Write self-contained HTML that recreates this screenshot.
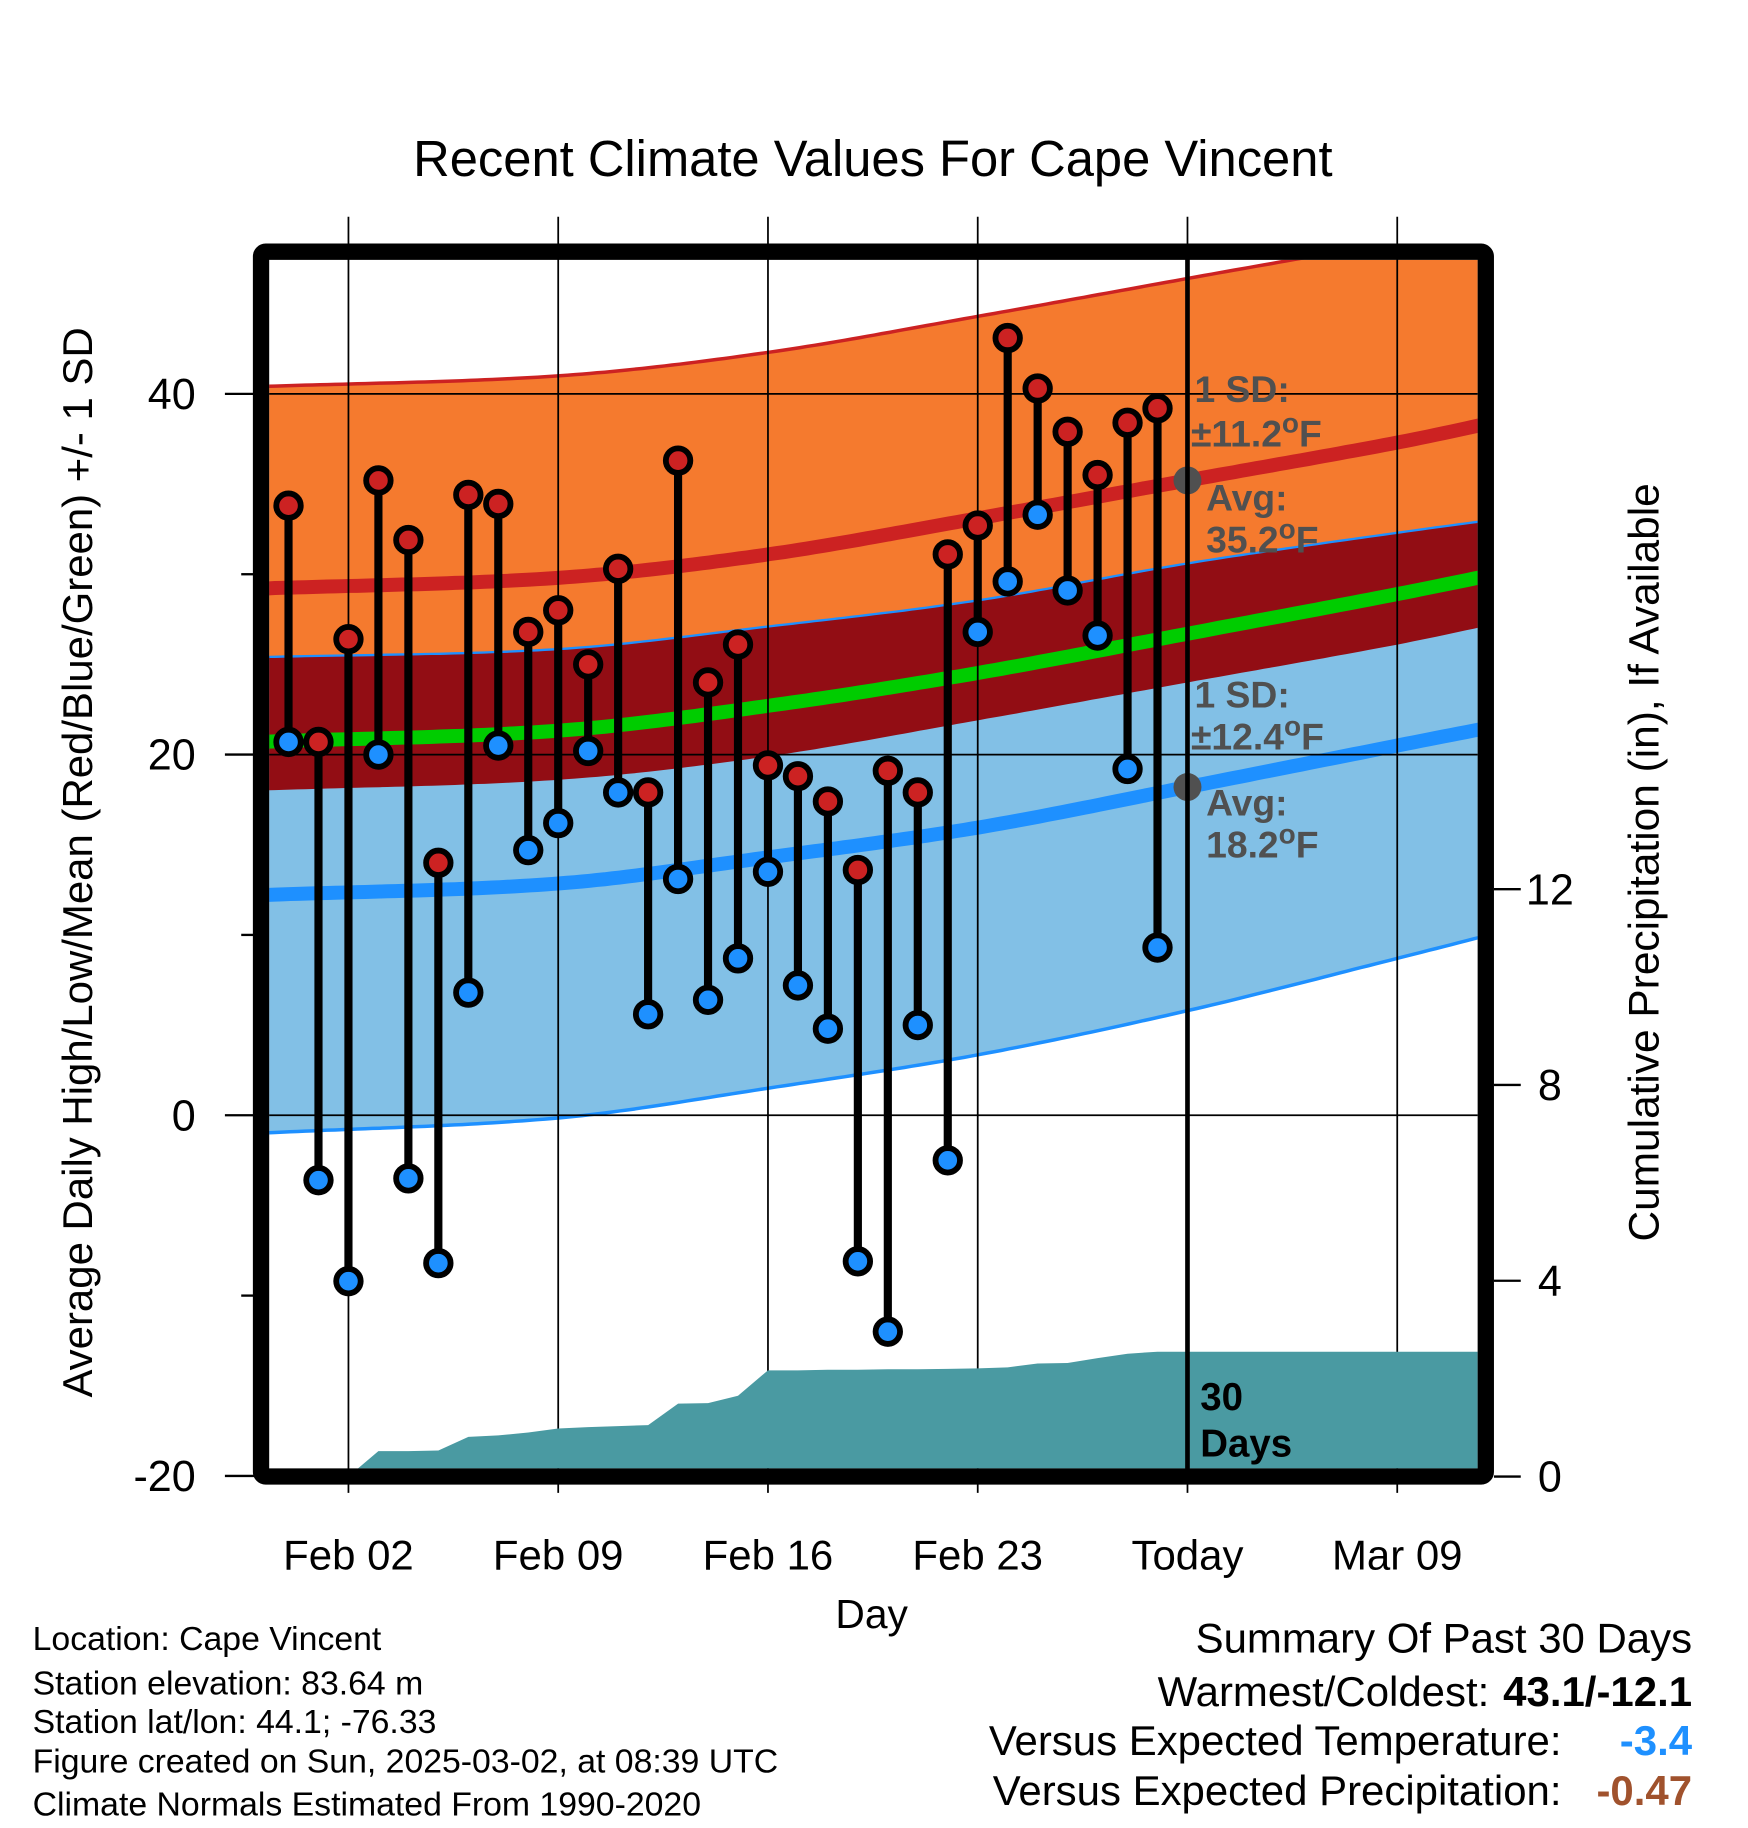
<!DOCTYPE html>
<html><head><meta charset="utf-8"><title>Recent Climate Values For Cape Vincent</title>
<style>html,body{margin:0;padding:0;background:#fff}svg{display:block;font-family:"Liberation Sans",Arial,sans-serif}</style>
</head><body>
<svg id="chart" xmlns="http://www.w3.org/2000/svg" width="1748" height="1828" viewBox="0 0 1500 1568.6" preserveAspectRatio="none">
<defs><clipPath id="plotclip"><rect x="231" y="223" width="1037" height="1037"/></clipPath></defs>
<text x="749" y="151" text-anchor="middle" font-size="43.5">Recent Climate Values For Cape Vincent</text>
<g id="bands" clip-path="url(#plotclip)"></g>
<g id="grid"></g>
<g id="precip" clip-path="url(#plotclip)"></g>
<g id="marks"></g>
<g id="annot"></g>
<rect x="224" y="216" width="1051" height="1051" rx="4" fill="none" stroke="#000" stroke-width="14"/>
<g id="axes"></g>
<text transform="translate(79,740) rotate(-90)" text-anchor="middle" font-size="36">Average Daily High/Low/Mean (Red/Blue/Green) +/- 1 SD</text>
<text transform="translate(1423,740) rotate(-90)" text-anchor="middle" font-size="36.4">Cumulative Precipitation (in), If Available</text>
<text x="748" y="1397" text-anchor="middle" font-size="35">Day</text>
<g font-size="29">
<text x="28" y="1416">Location: Cape Vincent</text>
<text x="28" y="1454">Station elevation: 83.64 m</text>
<text x="28" y="1487">Station lat/lon: 44.1; -76.33</text>
<text x="28" y="1521">Figure created on Sun, 2025-03-02, at 08:39 UTC</text>
<text x="28" y="1558">Climate Normals Estimated From 1990-2020</text>
</g>
<g font-size="36">
<text x="1452" y="1418" text-anchor="end">Summary Of Past 30 Days</text>
<text x="1278" y="1464" text-anchor="end">Warmest/Coldest:</text>
<text x="1452" y="1464" text-anchor="end" font-weight="bold">43.1/-12.1</text>
<text x="1340" y="1506" text-anchor="end">Versus Expected Temperature:</text>
<text x="1452" y="1506" text-anchor="end" font-weight="bold" fill="#1e90ff">-3.4</text>
<text x="1340" y="1549" text-anchor="end">Versus Expected Precipitation:</text>
<text x="1452" y="1549" text-anchor="end" font-weight="bold" fill="#a0522d">-0.47</text>
</g>
</svg>
<script>
// ---- data ----
const dayIndex = [-1,0,1,2,3,4,5,6,7,8,9,10,11,12,13,14,15,16,17,18,19,20,21,22,23,24,25,26,27,28];
const highs = [33.8,20.7,26.4,35.2,31.9,14.0,34.4,33.9,26.8,28.0,25.0,30.3,17.9,36.3,24.0,26.1,19.4,18.8,17.4,13.6,19.1,17.9,31.1,32.7,43.1,40.3,37.9,35.5,38.4,39.2];
const lows = [20.7,-3.6,-9.2,20.0,-3.5,-8.2,6.8,20.5,14.7,16.2,20.2,17.9,5.6,13.1,6.4,8.7,13.5,7.2,4.8,-8.1,-12.0,5.0,-2.5,26.8,29.6,33.3,29.1,26.6,19.2,9.3];
const normalDays = [-2,8,15,22,29,36,40];
const normalHigh = [29.2,29.8,31.1,33.1,35.2,37.3,38.7];
const normalLow = [12.2,12.85,14.3,15.95,18.2,20.5,21.8];
const sdHighBand = [11.2,11.2,11.2,11.2,11.2,11.2,11.2];
const sdLowBand = [13.2,13.0,12.8,12.6,12.4,11.8,11.4];
const sdHigh = 11.2;
const sdLow = 12.4;
const precipDays = [0,1,2,3,4,5,6,7,8,9,10,11,12,13,14,15,16,17,18,19,20,21,22,23,24,25,26,27,28];
const precipCum = [0,0,0.52,0.52,0.53,0.81,0.84,0.90,0.98,1.01,1.03,1.05,1.49,1.50,1.65,2.17,2.17,2.18,2.18,2.19,2.19,2.20,2.21,2.23,2.31,2.32,2.42,2.51,2.55];
const xTickLabels = ["Feb 02","Feb 09","Feb 16","Feb 23","Today","Mar 09"];
const xTickDays = [1,8,15,22,29,36];
const yTicks = [-20,0,20,40];
const yMinorTicks = [-10,10,30];
const y2Ticks = [0,4,8,12];

// ---- scales ----
const X = d => 273.3 + d*25.714;
const Y = v => 957 - v*15.475;
const Y2 = p => 1267 - p*42;
const D0 = -1.7, D1 = 38.8;
const NS = "http://www.w3.org/2000/svg";
function mk(tag, attrs, parent){const e=document.createElementNS(NS,tag);for(const k in attrs)e.setAttribute(k,attrs[k]);parent.appendChild(e);return e;}
function interp(xs, ys, x){
  // Catmull-Rom smooth interpolation
  const n=xs.length;
  let i=0; while(i<n-2 && x>xs[i+1]) i++;
  const t=(x-xs[i])/(xs[i+1]-xs[i]);
  const p0=i>0?ys[i-1]:2*ys[i]-ys[i+1], p1=ys[i], p2=ys[i+1], p3=i+2<n?ys[i+2]:2*ys[i+1]-ys[i];
  const h0=i>0?xs[i]-xs[i-1]:xs[i+1]-xs[i], h1=xs[i+1]-xs[i], h2=i+2<n?xs[i+2]-xs[i+1]:h1;
  const m1=(p2-p0)/(h0+h1)*h1, m2=(p3-p1)/(h1+h2)*h1;
  const t2=t*t,t3=t2*t;
  return (2*t3-3*t2+1)*p1+(t3-2*t2+t)*m1+(-2*t3+3*t2)*p2+(t3-t2)*m2;
}
const samp=[];for(let d=D0;d<=D1+0.001;d+=0.25)samp.push(d);
const hi=d=>interp(normalDays,normalHigh,d), lo=d=>interp(normalDays,normalLow,d);
const sh=d=>interp(normalDays,sdHighBand,d), sl=d=>interp(normalDays,sdLowBand,d);
function linePts(f){return samp.map(d=>X(d).toFixed(1)+","+Y(f(d)).toFixed(1)).join(" ");}
function bandPts(fTop,fBot){const a=samp.map(d=>X(d).toFixed(1)+","+Y(fTop(d)).toFixed(1));const b=samp.slice().reverse().map(d=>X(d).toFixed(1)+","+Y(fBot(d)).toFixed(1));return a.concat(b).join(" ");}

const bands=document.getElementById('bands');
let e;
e=mk('polygon',{points:bandPts(d=>hi(d)+sh(d),d=>hi(d)-sh(d)),fill:'#f57a2e'},bands);


e=mk('polygon',{points:bandPts(d=>lo(d)+sl(d),d=>lo(d)-sl(d)),fill:'#82c0e6'},bands);


e=mk('polygon',{points:bandPts(d=>lo(d)+sl(d),d=>hi(d)-sh(d)),fill:'#920d14'},bands);


e=mk('polyline',{points:linePts(d=>hi(d)+sh(d)),fill:'none',stroke:'#cc2222','stroke-width':3},bands);


e=mk('polyline',{points:linePts(d=>lo(d)+sl(d)),fill:'none',stroke:'#1e90ff','stroke-width':2},bands);


e=mk('polyline',{points:linePts(d=>lo(d)-sl(d)),fill:'none',stroke:'#1e90ff','stroke-width':3},bands);


e=mk('polyline',{points:linePts(hi),fill:'none',stroke:'#cc2222','stroke-width':12},bands);


e=mk('polyline',{points:linePts(d=>(hi(d)+lo(d))/2),fill:'none',stroke:'#00cc00','stroke-width':12},bands);


e=mk('polyline',{points:linePts(lo),fill:'none',stroke:'#1e90ff','stroke-width':12},bands);



// grid
const grid=document.getElementById('grid');
yTicks.forEach(v=>{e=mk('line',{x1:231,x2:1268,y1:Y(v),y2:Y(v),stroke:'#000','stroke-width':1.5},grid);

});
xTickDays.forEach(d=>{e=mk('line',{x1:X(d),x2:X(d),y1:186,y2:1281,stroke:'#000','stroke-width':1.5},grid);

});

// precip
const pr=document.getElementById('precip');
let pp=precipDays.map((d,i)=>X(d).toFixed(1)+","+Y2(precipCum[i]).toFixed(1));
pp.push(X(D1)+","+Y2(precipCum[precipCum.length-1]).toFixed(1));
pp.push(X(D1)+",1262");pp.push(X(precipDays[0])+",1262");
e=mk('polygon',{points:pp.join(" "),fill:'#4a9aa2'},pr);



// today line
e=mk('line',{x1:X(29),x2:X(29),y1:216,y2:1262,stroke:'#000','stroke-width':4},grid.parentNode);



// marks
const marks=document.getElementById('marks');
dayIndex.forEach((d,i)=>{
  e=mk('line',{x1:X(d),x2:X(d),y1:Y(highs[i]),y2:Y(lows[i]),stroke:'#000','stroke-width':7},marks);
  
  
});
dayIndex.forEach((d,i)=>{
  e=mk('circle',{cx:X(d),cy:Y(lows[i]),r:10.5,fill:'#1e90ff',stroke:'#000','stroke-width':5},marks);
  
  
  e=mk('circle',{cx:X(d),cy:Y(highs[i]),r:10.5,fill:'#cc2222',stroke:'#000','stroke-width':5},marks);
  
  
});

// annotations
const an=document.getElementById('annot');
[hi(29),lo(29)].forEach(v=>{e=mk('circle',{cx:X(29),cy:Y(v),r:12,fill:'#505050'},an);

});
function atext(x,y,html,size,fill,name){const t=mk('text',{x:x,y:y,'font-size':size,'font-weight':'bold',fill:fill},an);t.innerHTML=html;

return t;}
const sup='<tspan dy="-12" font-size="24">o</tspan><tspan dy="12">F</tspan>';
atext(1025,345,'1 SD:',32,'#505050','high-sd-label');
atext(1022,383,'±'+sdHigh.toFixed(1)+sup,32,'#505050','high-sd-value');
atext(1035,438,'Avg:',32,'#505050','high-avg-label');
atext(1035,474,hi(29).toFixed(1)+sup,32,'#505050','high-avg-value');
atext(1025,607,'1 SD:',32,'#505050','low-sd-label');
atext(1022,643,'±'+sdLow.toFixed(1)+sup,32,'#505050','low-sd-value');
atext(1035,700,'Avg:',32,'#505050','low-avg-label');
atext(1035,736,lo(29).toFixed(1)+sup,32,'#505050','low-avg-value');
atext(1030,1210,'30',33,'#000','days-count-label');
atext(1030,1250,'Days',33,'#000','days-label');

// axes
const ax=document.getElementById('axes');
yTicks.forEach(v=>{
  e=mk('line',{x1:193,x2:218,y1:Y(v),y2:Y(v),stroke:'#000','stroke-width':2},ax);
  
  
  const t=mk('text',{x:168,y:Y(v)+13,'text-anchor':'end','font-size':37},ax);t.textContent=v;
  
  
});
yMinorTicks.forEach(v=>{e=mk('line',{x1:207,x2:218,y1:Y(v),y2:Y(v),stroke:'#000','stroke-width':2},ax);

});
y2Ticks.forEach(p=>{
  e=mk('line',{x1:1282,x2:1305,y1:Y2(p),y2:Y2(p),stroke:'#000','stroke-width':2},ax);
  
  
  const t=mk('text',{x:1330,y:Y2(p)+13,'text-anchor':'middle','font-size':37},ax);t.textContent=p;
  
  
});
xTickDays.forEach((d,i)=>{
  const t=mk('text',{x:X(d),y:1347,'text-anchor':'middle','font-size':36},ax);t.textContent=xTickLabels[i];
  
  
});
</script>
</body></html>
